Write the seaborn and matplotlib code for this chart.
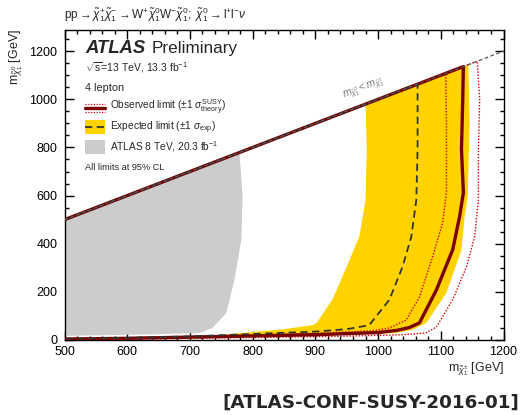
import numpy as np
import pandas as pd
import matplotlib
matplotlib.use("Agg")
import matplotlib.pyplot as plt
import seaborn as sns
from matplotlib.patches import Rectangle
from matplotlib.lines import Line2D
from matplotlib.ticker import MultipleLocator

# ---------------- data (GeV) ----------------
# kinematic boundary m(chi0) = m(chi+-)
diag_x = [500, 1290]
diag_y = [500, 1290]

# ATLAS 8 TeV excluded region (grey)
run1_x = [500, 500, 779, 784, 782, 771, 758, 736, 715, 650, 500]
run1_y = [17, 500, 779, 596, 417, 250, 112, 50, 29, 24, 17]

# expected +-1 sigma band (yellow)
band_x = [660, 720, 800, 850, 896, 902, 927, 950, 970, 980, 982, 980, 1144,
          1146, 1143, 1138, 1133, 1109, 1077, 1055, 1030, 1000, 900, 800, 700, 660]
band_y = [8, 15, 33, 45, 62, 71, 167, 304, 429, 583, 792, 980, 1144,
          900, 596, 513, 375, 196, 71, 42, 30, 26, 18, 12, 7, 6]

# expected limit (dashed)
exp_x = [500, 1063, 1063, 1061, 1053, 1039, 1018, 986, 970, 950, 900, 800, 700, 600, 500]
exp_y = [500, 1063, 792, 583, 429, 304, 167, 62, 54, 45, 35, 25, 15, 9, 5]

# observed limit (solid)
obs_x = [500, 1136, 1135, 1133, 1136, 1130, 1119, 1093, 1066, 1050, 1030, 1000, 900, 800, 700, 600, 500]
obs_y = [500, 1136, 1000, 792, 612, 513, 375, 208, 71, 52, 40, 31, 22, 17, 12, 7, 4]

# observed -1 sigma theory (dotted, inner)
obs_dn_x = [500, 1108, 1109, 1109, 1103, 1087, 1066, 1045, 1018, 990, 900, 800, 700, 600, 500]
obs_dn_y = [500, 1108, 900, 612, 487, 346, 179, 83, 50, 38, 28, 20, 14, 9, 6]

# observed +1 sigma theory (dotted, outer)
obs_up_x = [500, 1158, 1162, 1160, 1160, 1154, 1141, 1119, 1093, 1076, 1040, 950, 850, 700, 500]
obs_up_y = [500, 1158, 1000, 792, 583, 429, 304, 167, 54, 29, 22, 16, 12, 7, 2]

x_ticks = [500, 600, 700, 800, 900, 1000, 1100, 1200]
y_ticks = [0, 200, 400, 600, 800, 1000, 1200]

# ---------------- style ----------------
sns.set_theme(style="ticks")
plt.rcParams["font.family"] = ["Liberation Sans", "DejaVu Sans"]
plt.rcParams["mathtext.fontset"] = "custom"
plt.rcParams["mathtext.rm"] = "Liberation Sans"
plt.rcParams["mathtext.it"] = "Liberation Sans:italic"
plt.rcParams["mathtext.bf"] = "Liberation Sans:bold"

YELLOW = "#ffd200"
GREY = "#cccccc"
DRED = "#7a0000"
RED = "#d40000"
DGREY = "#333333"

fig = plt.figure(figsize=(5.31, 4.15), dpi=100)
ax = fig.add_axes([64.5 / 531, 1 - 340 / 415, 439 / 531, 310.5 / 415])

ax.fill(run1_x, run1_y, color=GREY, lw=0, zorder=1)
ax.fill(band_x, band_y, color=YELLOW, lw=0, zorder=2)

df = lambda x, y: pd.DataFrame({"x": x, "y": y})
sns.lineplot(data=df(obs_dn_x, obs_dn_y), x="x", y="y", sort=False, estimator=None,
             color=RED, lw=1.0, linestyle=(0, (1, 1.2)), ax=ax, zorder=3)
sns.lineplot(data=df(obs_up_x, obs_up_y), x="x", y="y", sort=False, estimator=None,
             color=RED, lw=1.0, linestyle=(0, (1, 1.2)), ax=ax, zorder=3)
sns.lineplot(data=df(obs_x, obs_y), x="x", y="y", sort=False, estimator=None,
             color=DRED, lw=2.4, ax=ax, zorder=4)
sns.lineplot(data=df(exp_x, exp_y), x="x", y="y", sort=False, estimator=None,
             color=DGREY, lw=1.3, linestyle=(0, (4, 2.5)), ax=ax, zorder=5)
sns.lineplot(data=df(diag_x, diag_y), x="x", y="y", sort=False, estimator=None,
             color="#555555", lw=0.9, linestyle=(0, (3, 2)), ax=ax, zorder=6)

ax.text(977, 1047, r"$m_{\tilde{\chi}^{0}_{1}} < m_{\tilde{\chi}^{\pm}_{1}}$", color="#777777",
        fontsize=7.5, rotation=21, ha="center", va="center", rotation_mode="anchor", zorder=7)

ax.set_xlim(500, 1200)
ax.set_ylim(0, 1290)
ax.set_xticks(x_ticks)
ax.set_yticks(y_ticks)
ax.xaxis.set_minor_locator(MultipleLocator(20))
ax.yaxis.set_minor_locator(MultipleLocator(50))
ax.tick_params(which="both", direction="in", top=True, right=True, colors="black",
               labelsize=9, width=1.0)
ax.tick_params(which="major", length=6.5)
ax.tick_params(which="minor", length=3.2)
ax.tick_params(axis="x", which="major", pad=4)
ax.tick_params(axis="y", which="major", pad=5)
for s in ax.spines.values():
    s.set_linewidth(1.0)
    s.set_color("black")
ax.set_xlabel("")
ax.set_ylabel("")

# axis titles
fig.text(503.5 / 531, 1 - 369 / 415, r"m$_{\tilde{\chi}^{\pm}_{1}}$ [GeV]", ha="right", va="center", fontsize=9)
fig.text(16 / 531, 1 - 29 / 415, r"m$_{\tilde{\chi}^{0}_{1}}$ [GeV]", ha="center", va="top",
         rotation=90, fontsize=9)

# process title
fig.text(64 / 531, 1 - 15 / 415,
         r"$\mathrm{pp}\rightarrow\tilde{\chi}^{+}_{1}\tilde{\chi}^{-}_{1}\rightarrow"
         r"\mathrm{W}^{+}\tilde{\chi}^{0}_{1}\mathrm{W}^{-}\tilde{\chi}^{0}_{1};\ \tilde{\chi}^{0}_{1}"
         r"\rightarrow\mathrm{l}^{+}\mathrm{l}^{-}\nu$",
         ha="left", va="center", fontsize=8.5)

# labels inside
tx = 0.0467
ax.text(tx, 0.940, "ATLAS", fontsize=13.3, fontweight="bold", fontstyle="italic",
        transform=ax.transAxes, va="center", ha="left")
ax.text(0.199, 0.940, "Preliminary", fontsize=12.3, transform=ax.transAxes, va="center", ha="left")
ax.text(tx, 0.876, r"$\sqrt{\mathrm{s}}$=13 TeV, 13.3 fb$^{-1}$", fontsize=7.5,
        transform=ax.transAxes, va="center", ha="left")
ax.text(tx, 0.812, "4 lepton", fontsize=7.8, transform=ax.transAxes, va="center", ha="left")

# legend entries (manual)
sx0, sx1 = 0.0467, 0.0923
yo = 0.748
ax.add_line(Line2D([sx0, sx1], [yo, yo], transform=ax.transAxes, color=DRED, lw=2.4, zorder=8))
for d in (0.013, -0.013):
    ax.add_line(Line2D([sx0, sx1], [yo + d, yo + d], transform=ax.transAxes, color=RED,
                       lw=0.9, linestyle=(0, (1, 1.2)), zorder=8))
ax.text(0.1036, yo, r"Observed limit ($\pm$1 $\sigma^{\mathrm{SUSY}}_{\mathrm{theory}}$)", fontsize=7.3,
        transform=ax.transAxes, va="center", ha="left")
ye = 0.685
ax.add_patch(Rectangle((sx0, ye - 0.022), sx1 - sx0, 0.044, transform=ax.transAxes,
                       color=YELLOW, lw=0, zorder=8))
ax.add_line(Line2D([sx0, sx1], [ye, ye], transform=ax.transAxes, color=DGREY, lw=1.3,
                   linestyle=(0, (4, 2.5)), zorder=9))
ax.text(0.1036, ye, r"Expected limit ($\pm$1 $\sigma_{\mathrm{exp}}$)", fontsize=7.3,
        transform=ax.transAxes, va="center", ha="left")
yg = 0.622
ax.add_patch(Rectangle((sx0, yg - 0.022), sx1 - sx0, 0.044, transform=ax.transAxes,
                       color=GREY, lw=0, zorder=8))
ax.text(0.1036, yg, r"ATLAS 8 TeV, 20.3 fb$^{-1}$", fontsize=7.3,
        transform=ax.transAxes, va="center", ha="left")
ax.text(tx, 0.557, "All limits at 95% CL", fontsize=6.6, transform=ax.transAxes,
        va="center", ha="left")

# reference tag
fig.text(519 / 531, 1 - 403 / 415, "[ATLAS-CONF-SUSY-2016-01]", ha="right", va="center",
         fontsize=13.2, fontweight="bold", family=["DejaVu Sans"])

fig.savefig("out.png", dpi=100)
